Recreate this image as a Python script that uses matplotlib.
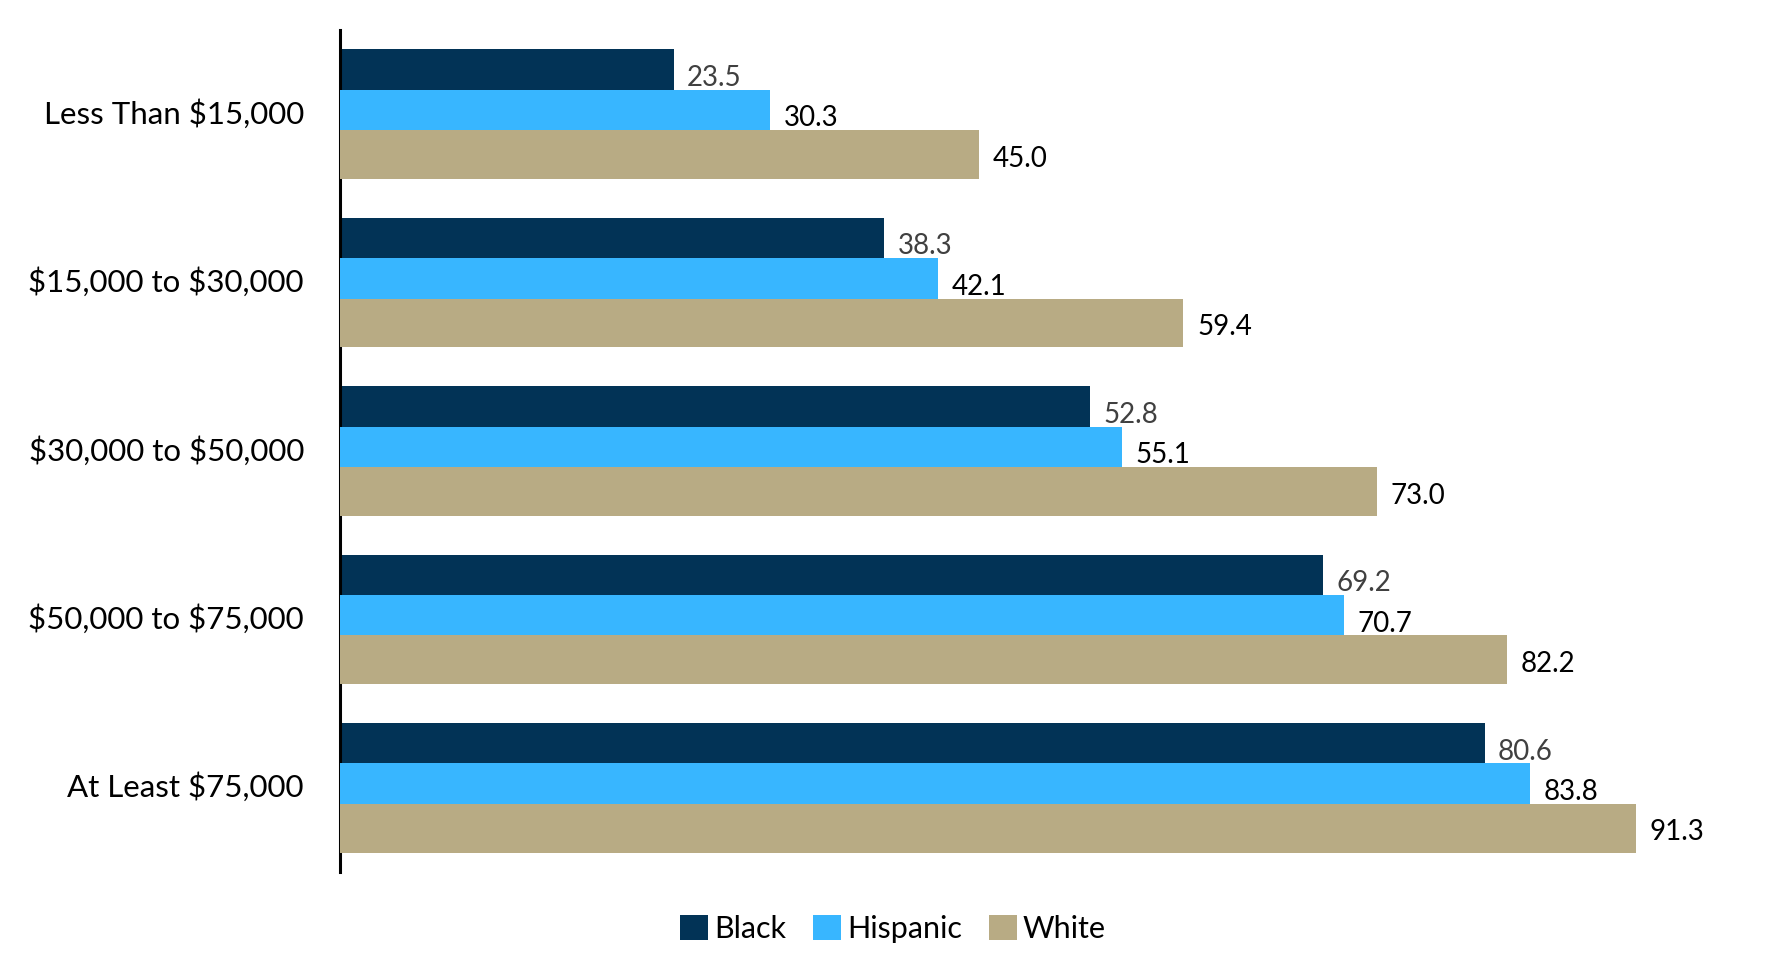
import numpy as np
import matplotlib.pyplot as plt
from matplotlib.patches import Patch
from matplotlib.transforms import ScaledTranslation

plt.rcParams['font.family'] = ['Lato', 'DejaVu Sans']
plt.rcParams['text.parse_math'] = False

categories = ["Less Than $15,000", "$15,000 to $30,000", "$30,000 to $50,000",
              "$50,000 to $75,000", "At Least $75,000"]
black = [23.5, 38.3, 52.8, 69.2, 80.6]
hispanic = [30.3, 42.1, 55.1, 70.7, 83.8]
white = [45.0, 59.4, 73.0, 82.2, 91.3]

series = ["Black", "Hispanic", "White"]
colors = ["#023356", "#38B6FF", "#B8AB84"]
label_colors = ["#404040", "#000000", "#000000"]

fig = plt.figure(figsize=(17.86, 9.72), dpi=100)
ax = fig.add_axes([340 / 1786, 1 - 872 / 972, (1786 - 340) / 1786, 842 / 972])

y = np.arange(len(categories))
step = 0.24
height = 0.29
for i, (vals, c, lc) in enumerate(zip([black, hispanic, white], colors, label_colors)):
    pos = y - step + i * step
    ax.barh(pos, vals, height=height, color=c, zorder=2 + i)
    for p, v in zip(pos, vals):
        ax.text(v + 0.95, p + 0.025, f"{v:.1f}", va="center", ha="left",
                fontsize=20, color=lc)

ax.set_xlim(0, (1786 - 340) / 14.2)
ax.set_ylim(len(categories) - 0.5, -0.5)
ax.set_yticks(y)
ax.set_yticklabels(categories, fontsize=22.5)
ax.tick_params(axis="y", length=0, pad=26)
# nudge the category labels up a little
for lbl in ax.get_yticklabels():
    lbl.set_transform(lbl.get_transform() + ScaledTranslation(0, 0.03, fig.dpi_scale_trans))
ax.set_xticks([])
for s in ["top", "right", "bottom"]:
    ax.spines[s].set_visible(False)
ax.spines["left"].set_linewidth(2.2)
ax.spines["left"].set_color("black")

handles = [Patch(facecolor=c, label=s) for s, c in zip(series, colors)]
fig.legend(handles=handles, loc="center", bbox_to_anchor=(0.5, 1 - 929 / 972),
           ncol=3, frameon=False, fontsize=22, handlelength=0.9, handleheight=0.9,
           handletextpad=0.2, columnspacing=0.9)

fig.savefig("out.png", dpi=100)
